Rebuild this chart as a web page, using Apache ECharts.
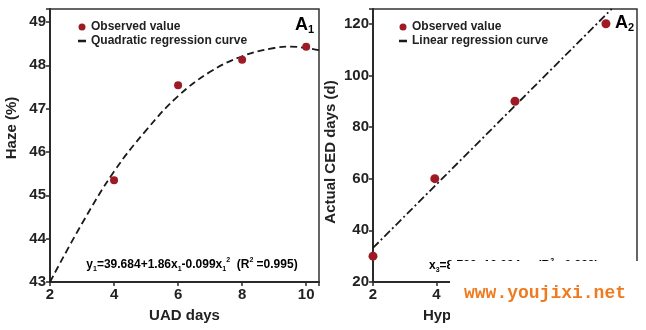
<!DOCTYPE html>
<html><head><meta charset="utf-8">
<script src="https://cdn.jsdelivr.net/npm/echarts@6/dist/echarts.min.js"></script>
<style>html,body{margin:0;padding:0;background:#fff}#c{width:646px;height:330px}</style>
</head><body><div id="c"></div>
<script>
// Panel A1: UAD days vs Haze (%)
const uadDays = [4, 6, 8, 10];
const hazeObserved = [45.35, 47.54, 48.13, 48.43];
const quadCurveX = [2, 3, 4, 5, 6, 7, 8, 9, 9.5, 10, 10.4];
const quadCurveY = [43.0, 44.35, 45.55, 46.5, 47.29, 47.85, 48.21, 48.4, 48.43, 48.4, 48.35];
// Panel A2: Hypothetical CED days vs Actual CED days
const hypDays = [2, 3.95, 6.48, 9.35];
const cedObserved = [30, 60, 90, 120];
const linLineX = [2, 9.53];
const linLineY = [33.2, 125.7];
const xTicksA = [2, 4, 6, 8, 10];
const yTicksA1 = [43, 44, 45, 46, 47, 48, 49];
const yTicksA2 = [20, 40, 60, 80, 100, 120];

const FONT = '"Liberation Sans", Arial, sans-serif';
const AX = '#2a2a2a';
const DOT = '#9e1b25';
const DASH_ICON = 'path://M0,0h7v2.2h-7z';
const zip = (a, b) => a.map((v, i) => [v, b[i]]);
const fmt = (list) => (v) => list.indexOf(Math.round(v * 1000) / 1000) >= 0 ? String(v) : '';

function xAxis(gi, min, max, name) {
  return {
    type: 'value', gridIndex: gi, min: min, max: max, interval: 2,
    name: name, nameLocation: 'middle', nameGap: 26,
    nameTextStyle: {fontFamily: FONT, fontWeight: 'bold', fontSize: 15, color: '#222'},
    axisLine: {show: true, onZero: false, lineStyle: {color: AX, width: 2}},
    axisTick: {show: true, length: 4, lineStyle: {color: AX, width: 1.5}},
    axisLabel: {fontFamily: FONT, fontWeight: 'bold', fontSize: 15, color: '#222', margin: 5, formatter: fmt(xTicksA)},
    splitLine: {show: false}
  };
}
function yAxis(gi, min, max, interval, ticks) {
  return {
    type: 'value', gridIndex: gi, min: min, max: max, interval: interval,
    axisLine: {show: true, onZero: false, lineStyle: {color: AX, width: 2}},
    axisTick: {show: true, length: 4, lineStyle: {color: AX, width: 1.5}},
    axisLabel: {fontFamily: FONT, fontWeight: 'bold', fontSize: 15, color: '#222', margin: 4, formatter: fmt(ticks)},
    splitLine: {show: false}
  };
}

const chart = echarts.init(document.getElementById('c'), null, {renderer: 'canvas'});
const legendBase = {
  orient: 'vertical', itemWidth: 8, itemHeight: 7, itemGap: 2, symbolKeepAspect: true,
  textStyle: {fontFamily: FONT, fontWeight: 'bold', fontSize: 12, color: '#222'},
  selectedMode: false
};
const eqRich = {
  a: {fontFamily: FONT, fontWeight: 'bold', fontSize: 12, color: '#111', lineHeight: 14},
  s: {fontFamily: FONT, fontWeight: 'bold', fontSize: 7, color: '#111', verticalAlign: 'bottom', lineHeight: 10},
  p: {fontFamily: FONT, fontWeight: 'bold', fontSize: 7, color: '#111', verticalAlign: 'top', lineHeight: 16}
};
const aRich = {
  a: {fontFamily: FONT, fontWeight: 'bold', fontSize: 18, color: '#111', lineHeight: 20},
  s: {fontFamily: FONT, fontWeight: 'bold', fontSize: 11, color: '#111', verticalAlign: 'bottom', lineHeight: 16}
};

chart.setOption({
  animation: false,
  backgroundColor: '#fff',
  grid: [
    {left: 50, top: 9, right: 327, bottom: 48, show: true, borderColor: '#333', borderWidth: 1.5, backgroundColor: 'transparent'},
    {left: 373, top: 9, right: 9, bottom: 48, show: true, borderColor: '#333', borderWidth: 1.5, backgroundColor: 'transparent'}
  ],
  xAxis: [xAxis(0, 2, 10.4, 'UAD days'), xAxis(1, 2, 10.33, 'Hypothetical CED days')],
  yAxis: [yAxis(0, 43, 49.3, 1, yTicksA1), yAxis(1, 20, 125.7, 20, yTicksA2)],
  legend: [
    Object.assign({}, legendBase, {left: 73, top: 16, data: [{name: 'Observed value', icon: 'circle'}, {name: 'Quadratic regression curve', icon: DASH_ICON}]}),
    Object.assign({}, legendBase, {left: 394, top: 16, data: [{name: 'Observed value', icon: 'circle'}, {name: 'Linear regression curve', icon: DASH_ICON}]})
  ],
  series: [
    {type: 'line', name: 'Quadratic regression curve', xAxisIndex: 0, yAxisIndex: 0, data: zip(quadCurveX, quadCurveY),
     smooth: 0.4, showSymbol: false, symbol: 'none', clip: true,
     lineStyle: {color: '#1a1a1a', width: 1.8, type: [7, 4]}, itemStyle: {color: '#1a1a1a'}, z: 2},
    {type: 'scatter', name: 'Observed value', xAxisIndex: 0, yAxisIndex: 0, data: zip(uadDays, hazeObserved),
     symbolSize: 8, itemStyle: {color: DOT, opacity: 1}, z: 3},
    {type: 'line', name: 'Linear regression curve', xAxisIndex: 1, yAxisIndex: 1, data: zip(linLineX, linLineY),
     showSymbol: false, symbol: 'none', clip: true,
     lineStyle: {color: '#1a1a1a', width: 1.8, type: [8, 3, 2, 3]}, itemStyle: {color: '#1a1a1a'}, z: 2},
    {type: 'scatter', name: 'Observed value', xAxisIndex: 1, yAxisIndex: 1, data: zip(hypDays, cedObserved),
     symbolSize: 9, itemStyle: {color: DOT, opacity: 1}, z: 3}
  ],
  graphic: [
    {type: 'text', x: 12, y: 128, rotation: Math.PI / 2, style: {text: 'Haze (%)', font: 'bold 15px ' + FONT, fill: '#222', align: 'center', verticalAlign: 'middle'}},
    {type: 'text', x: 331, y: 152, rotation: Math.PI / 2, style: {text: 'Actual CED days (d)', font: 'bold 15px ' + FONT, fill: '#222', align: 'center', verticalAlign: 'middle'}},
    {type: 'text', x: 295, y: 15, style: {text: '{a|A}{s|1}', rich: aRich}},
    {type: 'text', x: 615, y: 13, style: {text: '{a|A}{s|2}', rich: aRich}},
    {type: 'text', x: 192, y: 265, style: {text: '{a|y}{s|1}{a|=39.684+1.86x}{s|1}{a|-0.099x}{s|1}{p|2}{a|  (R}{p|2}{a| =0.995)}', rich: eqRich, align: 'center', verticalAlign: 'middle'}},
    {type: 'text', x: 429, y: 258, style: {text: '{a|x}{s|3}{a|=8.783+12.094x}{s|2}{a|  (R}{p|2}{a| =0.993)}', rich: eqRich}},
    {type: 'rect', z: 100, shape: {x: 450, y: 261, width: 196, height: 69}, style: {fill: '#fff'}},
    {type: 'text', z: 101, x: 545, y: 293, style: {text: 'www.youjixi.net', font: 'bold 18px "Liberation Mono", monospace', fill: '#f07a1f', align: 'center', verticalAlign: 'middle'}}
  ]
});
</script></body></html>
